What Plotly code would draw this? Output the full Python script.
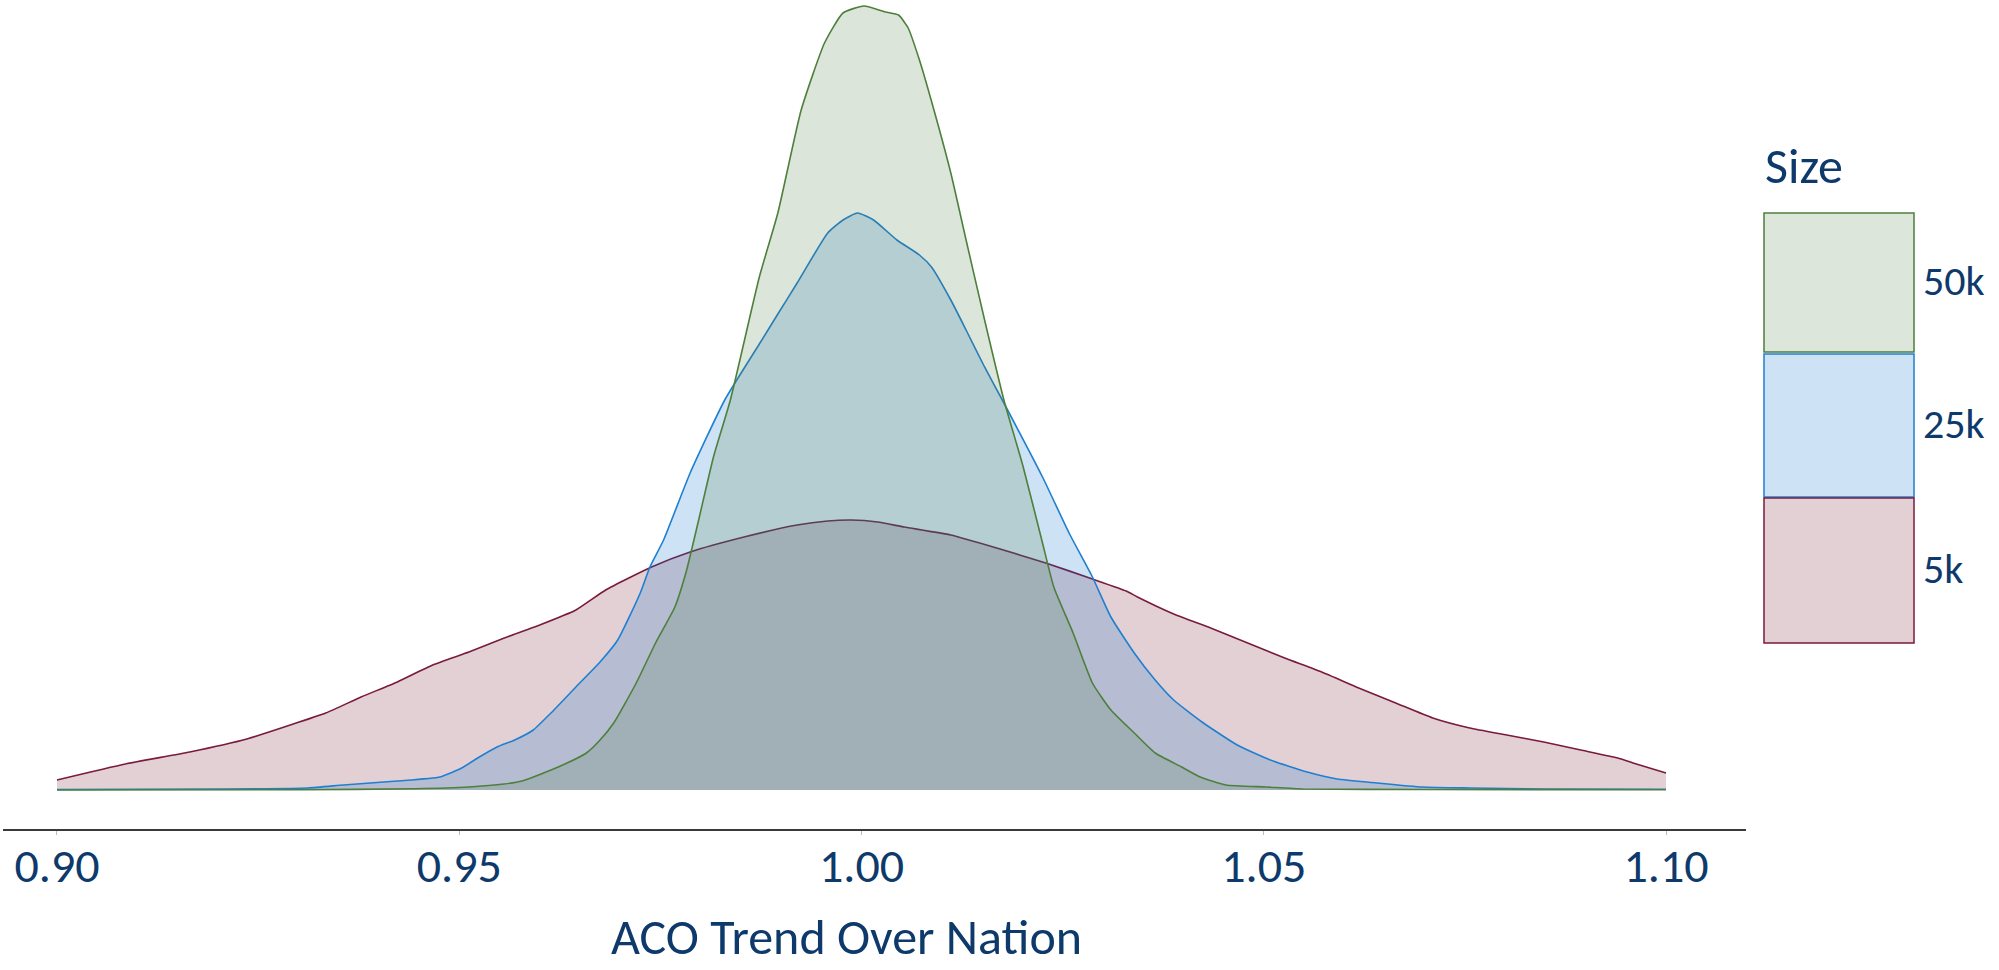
import plotly.graph_objects as go

# ---------------- data ----------------
sizes = ["50k", "25k", "5k"]

x_50k = [0.900, 0.930, 0.9445, 0.9512, 0.9556, 0.9578, 0.9623, 0.9658, 0.9675, 0.9692,
         0.9720, 0.9744, 0.9768, 0.9782, 0.9797, 0.9816, 0.9837, 0.9873, 0.9896, 0.9925,
         0.9954, 0.9977, 1.0003, 1.0030, 1.0046, 1.0058, 1.0072, 1.0089, 1.0111, 1.0130,
         1.0153, 1.0177, 1.0201, 1.0225, 1.0239, 1.0263, 1.0287, 1.0310, 1.0339, 1.0365,
         1.0398, 1.0421, 1.0453, 1.0503, 1.0549, 1.0700, 1.1000]
d_50k = [0.00, 0.01, 0.05, 0.12, 0.24, 0.36, 0.92, 1.48, 2.00, 2.68,
         4.28, 5.88, 7.32, 8.72, 10.72, 13.32, 15.60, 20.52, 23.08, 27.20,
         29.88, 31.08, 31.36, 31.12, 31.00, 30.48, 29.20, 27.32, 24.68, 22.00,
         18.80, 15.60, 12.92, 9.88, 8.12, 6.28, 4.28, 3.20, 2.28, 1.48,
         0.92, 0.52, 0.20, 0.12, 0.04, 0.02, 0.01]

x_25k = [0.900, 0.920, 0.9312, 0.9356, 0.9423, 0.9476, 0.9503, 0.9525, 0.9547, 0.9569,
         0.9592, 0.9614, 0.9645, 0.9675, 0.9697, 0.9725, 0.9737, 0.9754, 0.9787, 0.9830,
         0.9873, 0.9896, 0.9920, 0.9958, 0.9977, 0.9995, 1.0015, 1.0044, 1.0072, 1.0087,
         1.0111, 1.0130, 1.0153, 1.0175, 1.0225, 1.0258, 1.0287, 1.0310, 1.0339, 1.0365,
         1.0388, 1.0425, 1.0467, 1.0508, 1.0554, 1.0591, 1.0641, 1.0697, 1.0756, 1.0848,
         1.1000]
d_25k = [0.02, 0.04, 0.08, 0.20, 0.36, 0.52, 0.88, 1.32, 1.72, 2.00,
         2.40, 3.08, 4.12, 5.12, 6.00, 7.88, 8.92, 10.00, 12.68, 15.60,
         17.84, 19.04, 20.28, 22.28, 22.80, 23.08, 22.80, 22.00, 21.40, 20.92,
         19.60, 18.40, 16.92, 15.60, 12.52, 10.28, 8.52, 6.92, 5.48, 4.40,
         3.60, 2.68, 1.80, 1.20, 0.72, 0.44, 0.28, 0.12, 0.08, 0.04,
         0.03]

x_5k = [0.900, 0.9085, 0.9165, 0.9236, 0.9290, 0.9334, 0.9378, 0.9423, 0.9467, 0.9512,
        0.9556, 0.9600, 0.9645, 0.9682, 0.9739, 0.9787, 0.9854, 0.9920, 0.9958, 0.9987,
        1.0020, 1.0053, 1.0111, 1.0168, 1.0229, 1.0287, 1.0329, 1.0343, 1.0388, 1.0434,
        1.0480, 1.0526, 1.0572, 1.0618, 1.0664, 1.0710, 1.0756, 1.0802, 1.0848, 1.0894,
        1.0940, 1.0959, 1.1000]
d_5k = [0.40, 1.04, 1.52, 2.04, 2.60, 3.08, 3.72, 4.32, 5.00, 5.52,
        6.08, 6.60, 7.20, 8.00, 8.92, 9.52, 10.12, 10.60, 10.76, 10.80,
        10.72, 10.52, 10.20, 9.68, 9.08, 8.44, 7.96, 7.72, 7.04, 6.48,
        5.88, 5.28, 4.72, 4.08, 3.48, 2.88, 2.48, 2.20, 1.92, 1.60,
        1.28, 1.08, 0.68]

tick_vals = [0.90, 0.95, 1.00, 1.05, 1.10]
tick_text = ["0.90", "0.95", "1.00", "1.05", "1.10"]
x_title = "ACO Trend Over Nation"
legend_title = "Size"

# ---------------- styles ----------------
FONT = "Carlito, Calibri, Lato, sans-serif"
TXT = "#0e3a6b"
line_col = {"5k": "#7a1a3c", "25k": "#1f7fd0", "50k": "#4e7f3c"}
fill_col = {"5k": "rgba(115,20,45,0.2)", "25k": "rgba(5,115,205,0.2)", "50k": "rgba(80,125,70,0.2)"}
box_fill = {"5k": "#e3d0d5", "25k": "#cde3f5", "50k": "#dce6da"}

W, H = 1999, 970
L, R, T, B = 3, 253, 2, 141
pw, ph = W - L - R, H - T - B


def px(X):
    return (X - L) / pw


def py(Y):
    return (H - B - Y) / ph


series = {"5k": (x_5k, d_5k), "25k": (x_25k, d_25k), "50k": (x_50k, d_50k)}

fig = go.Figure()
for name in ["5k", "25k", "50k"]:
    xs, ds = series[name]
    fig.add_trace(go.Scatter(
        x=xs, y=ds, name=name, mode="lines", fill="tozeroy",
        line=dict(color=line_col[name], width=1.6, shape="spline", smoothing=0.5),
        fillcolor=fill_col[name], showlegend=False,
    ))

fig.update_layout(
    width=W, height=H,
    margin=dict(l=L, r=R, t=T, b=B),
    paper_bgcolor="white", plot_bgcolor="white",
    font=dict(family=FONT, color=TXT),
    xaxis=dict(
        range=[0.89329, 1.10994], tickvals=tick_vals, ticktext=tick_text,
        showgrid=False, zeroline=False, showline=True, linecolor="#3a3a3a", linewidth=1.5,
        ticks="outside", ticklen=4, tickcolor="#bbbbbb", tickwidth=1,
        ticklabelstandoff=-10,
        tickfont=dict(size=48, color=TXT, family=FONT),
    ),
    yaxis=dict(range=[-1.56, 31.52], visible=False, showgrid=False, zeroline=False),
)

# axis title
fig.add_annotation(text=x_title, xref="paper", yref="paper", x=px(846), y=py(969),
                   xanchor="center", yanchor="bottom", showarrow=False,
                   font=dict(size=50, color=TXT, family=FONT))

# legend (drawn as large swatches)
fig.add_annotation(text=legend_title, xref="paper", yref="paper", x=px(1763), y=py(166),
                   xanchor="left", yanchor="middle", showarrow=False,
                   font=dict(size=50, color=TXT, family=FONT))
boxes = {"50k": (213, 352), "25k": (354, 497), "5k": (498, 643)}
for name in sizes:
    y0, y1 = boxes[name]
    fig.add_shape(type="rect", xref="paper", yref="paper",
                  x0=px(1764), x1=px(1914), y0=py(y1), y1=py(y0),
                  fillcolor=box_fill[name], line=dict(color=line_col[name], width=1.5))
    fig.add_annotation(text=name, xref="paper", yref="paper", x=px(1921), y=py((y0 + y1) / 2 - 2),
                       xanchor="left", yanchor="middle", showarrow=False,
                       font=dict(size=42, color=TXT, family=FONT))

fig.write_html("out.html", config={"displayModeBar": False},
               post_script="document.body.style.margin='0';")
